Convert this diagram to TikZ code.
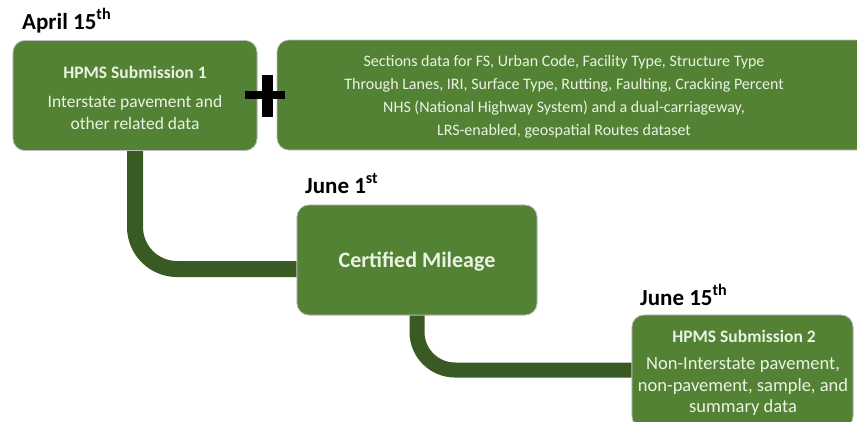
\documentclass[tikz,border=0pt]{standalone}
\usepackage{fontspec}
\setmainfont{Carlito}
\begin{document}
\begin{tikzpicture}[x=1pt,y=-1pt,
  box/.style={fill=boxgreen, draw=black!25, line width=0.6pt, rounded corners=12pt, inner sep=0pt, align=center, text=boxtext},
  conn/.style={draw=conngreen, line width=16pt},
  txt/.style={text=boxtext, align=center, inner sep=0pt},
  datelbl/.style={anchor=base west, font=\bfseries\fontsize{23}{25}\selectfont, text=black, inner sep=0pt}]
\definecolor{boxgreen}{HTML}{548235}
\definecolor{conngreen}{HTML}{3A5A23}
\definecolor{boxtext}{HTML}{EAF3E3}
\useasboundingbox (0,0) rectangle (857,421);
\clip (0,0) rectangle (857,421);
% boxes
\node[box, minimum width=244pt, minimum height=110pt] (b1) at (135,95.5) {};
\node[box, minimum width=593pt, minimum height=110pt] (b2) at (573.5,95) {};
\node[box, minimum width=240pt, minimum height=110pt] (b3) at (417,260) {};
\node[box, minimum width=221pt, minimum height=113pt] (b4) at (742.5,371.5) {};
% connectors
\coordinate (c1) at ([yshift=-9pt]b3.west);
\coordinate (c2) at (b4.west |- 0,370);
\draw[conn, rounded corners=42pt] (b1.south) |- (c1);
\draw[conn, line width=15pt, rounded corners=38pt] (b3.south) |- (c2);
% redraw boxes on top of connectors
\node[box, minimum width=244pt, minimum height=110pt] (b1f) at (135,95.5) {};
\node[box, minimum width=240pt, minimum height=110pt] (b3f) at (417,260) {};
\node[box, minimum width=221pt, minimum height=113pt] (b4f) at (742.5,371.5) {};
% texts
\node[txt, font=\bfseries\fontsize{17.5}{20}\selectfont] (t1a) at (135,72) {HPMS Submission 1};
\node[txt, font=\fontsize{17.5}{22}\selectfont] (t1b) at (135,112) {Interstate pavement and\\other related data};
\node[txt, font=\fontsize{16}{23}\selectfont] (t2) at (564,97) {Sections data for FS, Urban Code, Facility Type, Structure Type\\Through Lanes, IRI, Surface Type, Rutting, Faulting, Cracking Percent\\NHS (National Highway System) and a dual-carriageway,\\LRS-enabled, geospatial Routes dataset};
\node[txt, font=\bfseries\fontsize{22}{24}\selectfont] (t3) at (417,262) {Certified Mileage};
\node[txt, font=\bfseries\fontsize{17.5}{20}\selectfont] (t4a) at (744,336) {HPMS Submission 2};
\node[txt, font=\fontsize{18.5}{21.5}\selectfont] (t4b) at (743,387) {Non-Interstate pavement,\\non-pavement, sample, and\\summary data};
% plus sign
\fill[black] (262,75) rectangle (273,117);
\fill[black] (245,90.5) rectangle (285,98.5);
% dates
\node[datelbl] (d1) at (22,29) {April 15\textsuperscript{th}};
\node[datelbl] (d2) at (305,193) {June 1\textsuperscript{st}};
\node[datelbl] (d3) at (640,305) {June 15\textsuperscript{th}};
\end{tikzpicture}
\end{document}
